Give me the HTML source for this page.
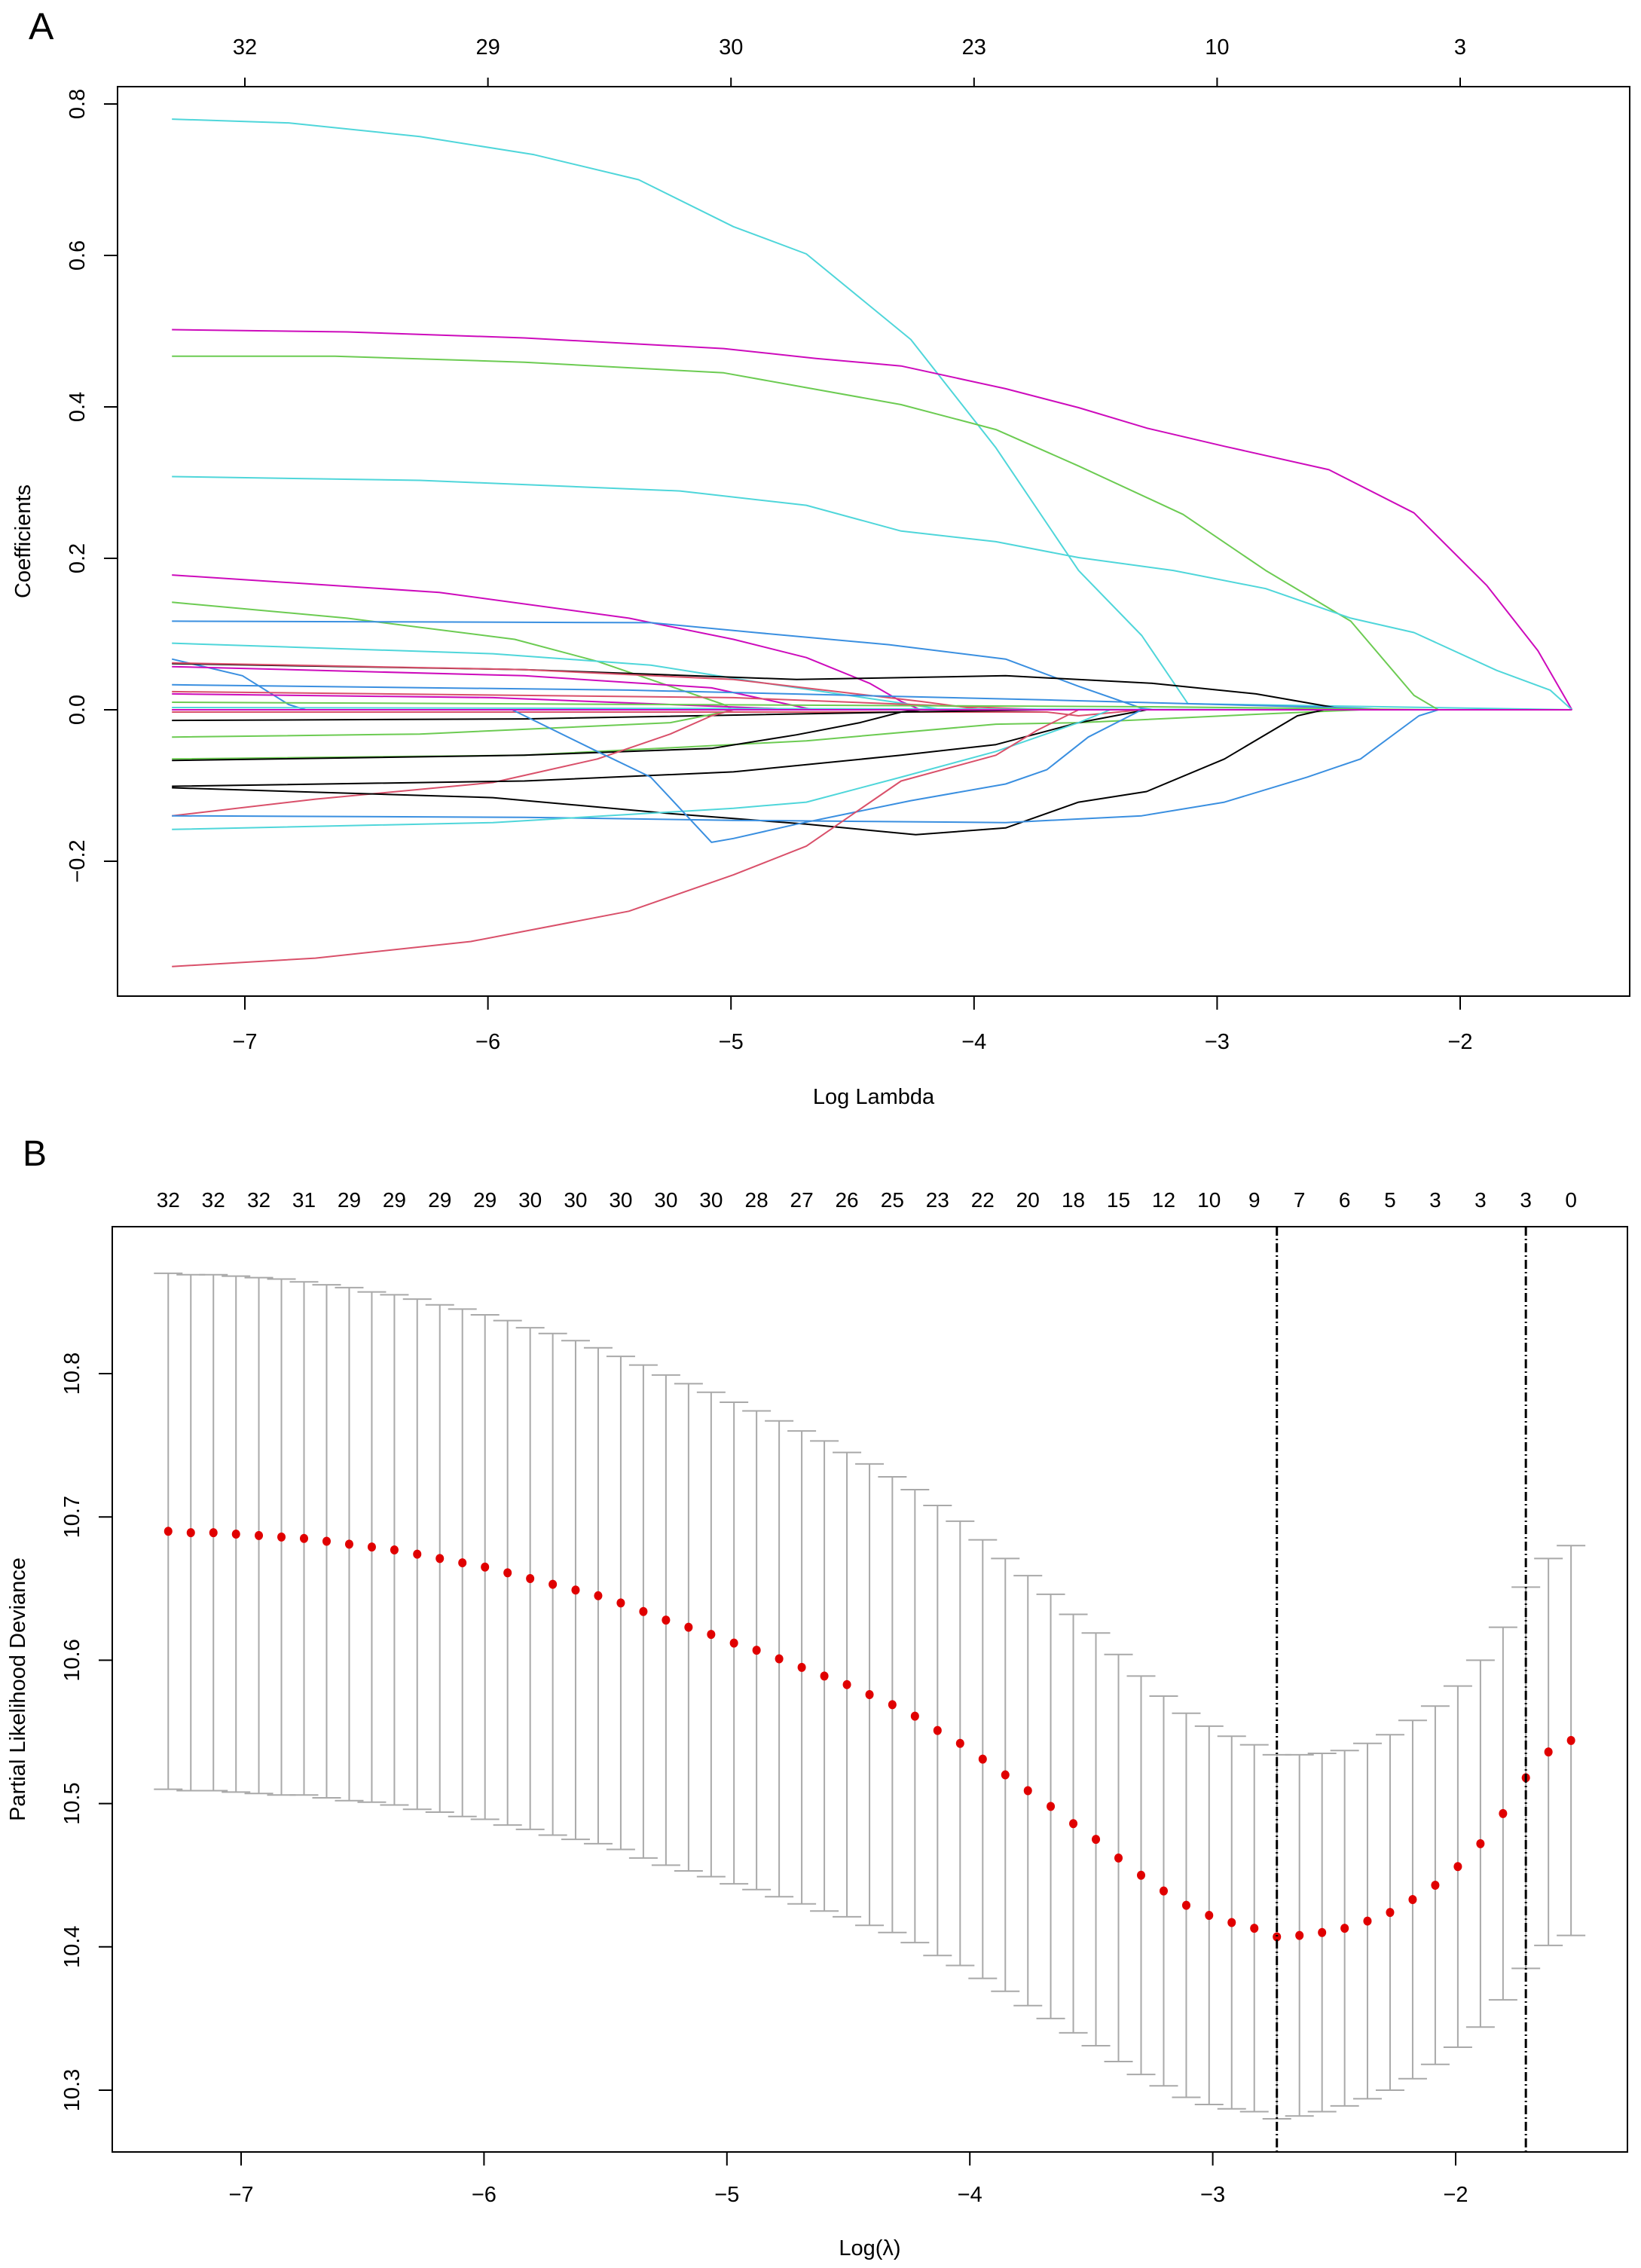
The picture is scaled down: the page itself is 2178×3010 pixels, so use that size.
<!DOCTYPE html>
<html><head><meta charset="utf-8"><style>
html,body{margin:0;padding:0;background:#fff;}
svg{display:block;font-family:"Liberation Sans",Arial,sans-serif;}
</style></head><body>
<svg id="fig" width="2178" height="3010" viewBox="0 0 2178 3010" xmlns="http://www.w3.org/2000/svg">
<rect width="2178" height="3010" fill="#fff"/>
<g id="panelA"></g>
<g id="panelB"></g>
</svg>
<script>
// ---------- Panel A data ----------
const aXTicks = [-7,-6,-5,-4,-3,-2];
const aTopLabels = ["32","29","30","23","10","3"];
const aYTicks = [-0.2,0.0,0.2,0.4,0.6,0.8];
const aColors = ["#4fd6da","#CD0BBC","#6ccb52","#4fd6da","#CD0BBC","#6ccb52","#3a8fe0","#4fd6da","#3a8fe0","#000000","#d9506a","#CD0BBC","#3a8fe0","#d9506a","#CD0BBC","#6ccb52","#4fd6da","#d9506a","#000000","#6ccb52","#6ccb52","#000000","#d9506a","#000000","#000000","#3a8fe0","#4fd6da","#3a8fe0","#d9506a","#CD0BBC"];
const aPathL = [
[-7.3,-6.82,-6.28,-5.81,-5.38,-4.99,-4.69,-4.26,-3.91,-3.57,-3.31,-3.12,-1.54],
[-7.3,-6.58,-5.85,-5.03,-4.65,-4.30,-3.87,-3.57,-3.29,-2.97,-2.54,-2.19,-1.89,-1.68,-1.54],
[-7.3,-6.63,-5.85,-5.03,-4.30,-3.91,-3.57,-3.14,-2.80,-2.45,-2.19,-2.09,-1.54],
[-7.3,-6.28,-5.21,-4.69,-4.30,-3.91,-3.57,-3.18,-2.80,-2.45,-2.19,-1.85,-1.63,-1.54],
[-7.3,-6.20,-5.42,-4.99,-4.69,-4.43,-4.30,-4.22,-1.54],
[-7.3,-6.58,-5.89,-5.55,-5.25,-5.03,-4.99,-1.54],
[-7.3,-6.28,-5.33,-4.90,-4.35,-3.87,-3.57,-3.31,-3.25,-1.54],
[-7.3,-5.98,-5.33,-4.90,-4.26,-4.13,-1.54],
[-7.3,-7.01,-6.82,-6.75,-1.54],
[-7.3,-5.85,-4.73,-3.87,-3.27,-2.84,-2.50,-2.46,-1.54],
[-7.3,-5.85,-4.99,-4.22,-3.96,-1.54],
[-7.3,-5.85,-5.08,-4.69,-4.65,-1.54],
[-7.3,-5.42,-3.70,-2.41,-2.30,-1.54],
[-7.3,-4.99,-3.70,-1.54],
[-7.3,-5.98,-4.69,-1.54],
[-7.3,-3.27,-2.09,-1.54],
[-7.3,-2.41,-1.54],
[-7.3,-3.70,-3.57,-3.31,-1.54],
[-7.3,-5.85,-4.30,-3.70,-1.54],
[-7.3,-6.28,-5.25,-5.03,-4.99,-1.54],
[-7.3,-5.85,-4.69,-3.91,-3.57,-2.84,-2.41,-1.54],
[-7.3,-5.85,-5.08,-4.73,-4.47,-4.30,-4.22,-1.54],
[-7.3,-6.71,-5.98,-5.55,-5.25,-5.08,-4.99,-1.54],
[-7.3,-5.85,-4.99,-4.30,-3.91,-3.57,-3.29,-1.54],
[-7.3,-5.98,-5.25,-4.69,-4.24,-3.87,-3.57,-3.29,-2.97,-2.67,-2.56,-1.54],
[-7.3,-5.85,-4.99,-3.87,-3.31,-2.97,-2.63,-2.41,-2.17,-2.09,-1.54],
[-7.3,-5.98,-4.99,-4.69,-4.30,-3.91,-3.57,-3.44,-1.54],
[-7.3,-5.90,-5.55,-5.33,-5.08,-4.99,-4.73,-4.26,-3.87,-3.70,-3.53,-3.31,-1.54],
[-7.3,-6.71,-6.07,-5.42,-4.99,-4.69,-4.30,-3.91,-3.74,-3.57,-1.54],
[-7.3,-1.54]
];
const aPathC = [
[0.780,0.775,0.757,0.733,0.700,0.638,0.602,0.489,0.346,0.184,0.098,0.008,0],
[0.502,0.499,0.491,0.477,0.464,0.454,0.424,0.399,0.372,0.348,0.317,0.260,0.164,0.078,0],
[0.467,0.467,0.459,0.445,0.403,0.370,0.322,0.258,0.184,0.117,0.019,0,0],
[0.308,0.303,0.289,0.270,0.236,0.222,0.201,0.184,0.160,0.121,0.102,0.052,0.026,0],
[0.178,0.155,0.121,0.093,0.069,0.035,0.011,0,0],
[0.142,0.121,0.093,0.064,0.031,0.007,0,0],
[0.117,0.116,0.115,0.102,0.086,0.067,0.031,0.002,0,0],
[0.088,0.074,0.059,0.037,0.007,0,0],
[0.067,0.045,0.007,0,0],
[0.061,0.053,0.040,0.045,0.035,0.021,0.002,0,0],
[0.062,0.053,0.040,0.011,0,0],
[0.057,0.045,0.029,0.002,0,0],
[0.033,0.026,0.013,0.002,0,0],
[0.024,0.016,0,0],
[0.021,0.016,0,0],
[0.010,0.004,0,0],
[0.003,0],
[-0.003,-0.003,-0.008,0,0],
[-0.014,-0.012,-0.003,0,0],
[-0.036,-0.032,-0.017,-0.003,0,0],
[-0.065,-0.060,-0.041,-0.019,-0.017,-0.006,0,0],
[-0.067,-0.060,-0.051,-0.033,-0.017,-0.003,0,0],
[-0.140,-0.118,-0.096,-0.065,-0.032,-0.008,0,0],
[-0.101,-0.094,-0.082,-0.060,-0.046,-0.017,0,0],
[-0.103,-0.116,-0.137,-0.151,-0.165,-0.156,-0.122,-0.108,-0.065,-0.008,0,0],
[-0.140,-0.142,-0.146,-0.149,-0.140,-0.122,-0.089,-0.065,-0.008,0,0],
[-0.158,-0.149,-0.130,-0.122,-0.089,-0.055,-0.017,0,0],
[0,0,-0.055,-0.089,-0.175,-0.170,-0.151,-0.120,-0.098,-0.079,-0.036,0,0],
[-0.339,-0.328,-0.306,-0.266,-0.218,-0.180,-0.094,-0.060,-0.027,0,0],
[0,0]
];
// ---------- Panel B data ----------
const bLogLambda = [-7.300,-7.207,-7.114,-7.021,-6.927,-6.834,-6.741,-6.648,-6.555,-6.462,-6.369,-6.275,-6.182,-6.089,-5.996,-5.903,-5.810,-5.717,-5.623,-5.530,-5.437,-5.344,-5.251,-5.158,-5.065,-4.971,-4.878,-4.785,-4.692,-4.599,-4.506,-4.413,-4.319,-4.226,-4.133,-4.040,-3.947,-3.854,-3.761,-3.667,-3.574,-3.481,-3.388,-3.295,-3.202,-3.109,-3.015,-2.922,-2.829,-2.736,-2.643,-2.550,-2.457,-2.363,-2.270,-2.177,-2.084,-1.991,-1.898,-1.805,-1.711,-1.618,-1.525];
const bMean = [10.690,10.689,10.689,10.688,10.687,10.686,10.685,10.683,10.681,10.679,10.677,10.674,10.671,10.668,10.665,10.661,10.657,10.653,10.649,10.645,10.640,10.634,10.628,10.623,10.618,10.612,10.607,10.601,10.595,10.589,10.583,10.576,10.569,10.561,10.551,10.542,10.531,10.520,10.509,10.498,10.486,10.475,10.462,10.450,10.439,10.429,10.422,10.417,10.413,10.407,10.408,10.410,10.413,10.418,10.424,10.433,10.443,10.456,10.472,10.493,10.518,10.536,10.544];
const bHalf = [0.180,0.180,0.180,0.180,0.180,0.180,0.179,0.179,0.179,0.178,0.178,0.178,0.177,0.177,0.176,0.176,0.175,0.175,0.174,0.173,0.172,0.172,0.171,0.170,0.169,0.168,0.167,0.166,0.165,0.164,0.162,0.161,0.159,0.158,0.157,0.155,0.153,0.151,0.150,0.148,0.146,0.144,0.142,0.139,0.136,0.134,0.132,0.130,0.128,0.127,0.126,0.125,0.124,0.124,0.124,0.125,0.125,0.126,0.128,0.130,0.133,0.135,0.136];
const bNonzero = ["32","32","32","31","29","29","29","29","30","30","30","30","30","28","27","26","25","23","22","20","18","15","12","10","9","7","6","5","3","3","3","0"];
const bXTicks = [-7,-6,-5,-4,-3,-2];
const bYTicks = [10.3,10.4,10.5,10.6,10.7,10.8];
const bCutoffs = [-2.736,-1.711];

const NS="http://www.w3.org/2000/svg";
function mk(parent,tag,attrs,text){const e=document.createElementNS(NS,tag);for(const k in attrs)e.setAttribute(k,attrs[k]);if(text!==undefined)e.textContent=text;parent.appendChild(e);return e;}

// ---------- Panel A ----------
const gA=document.getElementById('panelA');
const xA=L=>325+(L+7)*322.6, yA=c=>942-c*1005;
const A={l:156,r:2163,t:115,b:1322};
let t=mk(gA,'text',{x:38,y:52,'font-size':50},'A');


aPathL.forEach((Ls,i)=>{
  const d=Ls.map((L,j)=>(j?'L':'M')+xA(L).toFixed(1)+' '+yA(aPathC[i][j]).toFixed(1)).join(' ');
  const p=mk(gA,'path',{d:d,fill:'none',stroke:aColors[i],'stroke-width':2,'stroke-linejoin':'round'});
  
  
});
let bx=mk(gA,'rect',{x:A.l,y:A.t,width:A.r-A.l,height:A.b-A.t,fill:'none',stroke:'#000','stroke-width':2});


aXTicks.forEach((v,i)=>{
  const x=xA(v);
  mk(gA,'line',{x1:x,x2:x,y1:A.b,y2:A.b+18,stroke:'#000','stroke-width':2});
  const tl=mk(gA,'text',{x:x,y:A.b+70,'font-size':29,'text-anchor':'middle'},String(v).replace('-','\u2212'));
  
  
  mk(gA,'line',{x1:x,x2:x,y1:A.t,y2:A.t-12,stroke:'#000','stroke-width':2});
  const tt=mk(gA,'text',{x:x,y:72,'font-size':29,'text-anchor':'middle'},aTopLabels[i]);
  
  
});
aYTicks.forEach(v=>{
  const y=yA(v);
  mk(gA,'line',{x1:A.l,x2:A.l-18,y1:y,y2:y,stroke:'#000','stroke-width':2});
  const tl=mk(gA,'text',{x:0,y:0,'font-size':29,'text-anchor':'middle',transform:`translate(112,${y}) rotate(-90)`},v.toFixed(1).replace('-','\u2212'));
  
  
});
t=mk(gA,'text',{x:(A.l+A.r)/2,y:1465,'font-size':29,'text-anchor':'middle'},'Log Lambda');


t=mk(gA,'text',{x:0,y:0,'font-size':29,'text-anchor':'middle',transform:`translate(40,${(A.t+A.b)/2}) rotate(-90)`},'Coefficients');



// ---------- Panel B ----------
const gB=document.getElementById('panelB');
const xB=L=>320+(L+7)*322.4, yB=v=>1823+(10.8-v)*1902;
const B={l:149,r:2160,t:1628,b:2856};
t=mk(gB,'text',{x:30,y:1547,'font-size':48},'B');


bLogLambda.forEach((L,i)=>{
  const x=xB(L), yu=yB(bMean[i]+bHalf[i]), yl=yB(bMean[i]-bHalf[i]);
  const eb=mk(gB,'path',{d:`M${x} ${yu} L${x} ${yl} M${x-19} ${yu} L${x+19} ${yu} M${x-19} ${yl} L${x+19} ${yl}`,stroke:'#a9a9a9','stroke-width':2,fill:'none'});
  
  
});
bLogLambda.forEach((L,i)=>{
  const c=mk(gB,'ellipse',{cx:xB(L),cy:yB(bMean[i]),rx:5.5,ry:6,fill:'#e00000'});
  
  
});
bCutoffs.forEach(L=>{
  const l=mk(gB,'line',{x1:xB(L),x2:xB(L),y1:B.t,y2:B.b,stroke:'#000','stroke-width':3,'stroke-dasharray':'12 4 2 4'});
  
  
});
bx=mk(gB,'rect',{x:B.l,y:B.t,width:B.r-B.l,height:B.b-B.t,fill:'none',stroke:'#000','stroke-width':2});


bNonzero.forEach((s,k)=>{
  const tt=mk(gB,'text',{x:xB(bLogLambda[2*k]),y:1602,'font-size':28,'text-anchor':'middle'},s);
  
  
});
bXTicks.forEach(v=>{
  const x=xB(v);
  mk(gB,'line',{x1:x,x2:x,y1:B.b,y2:B.b+18,stroke:'#000','stroke-width':2});
  const tl=mk(gB,'text',{x:x,y:B.b+66,'font-size':29,'text-anchor':'middle'},String(v).replace('-','\u2212'));
  
  
});
bYTicks.forEach(v=>{
  const y=yB(v);
  mk(gB,'line',{x1:B.l,x2:B.l-18,y1:y,y2:y,stroke:'#000','stroke-width':2});
  const tl=mk(gB,'text',{x:0,y:0,'font-size':29,'text-anchor':'middle',transform:`translate(105,${y}) rotate(-90)`},v.toFixed(1));
  
  
});
t=mk(gB,'text',{x:(B.l+B.r)/2,y:2993,'font-size':29,'text-anchor':'middle'},'Log(\u03bb)');


t=mk(gB,'text',{x:0,y:0,'font-size':29,'text-anchor':'middle',transform:`translate(33,${(B.t+B.b)/2}) rotate(-90)`},'Partial Likelihood Deviance');


</script>
</body></html>
